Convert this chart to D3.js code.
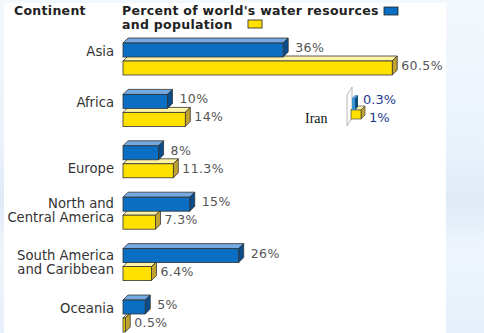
<!DOCTYPE html>
<html><head><meta charset="utf-8">
<script src="https://cdn.jsdelivr.net/npm/d3@7"></script>
<style>html,body{margin:0;padding:0;background:#fff;overflow:hidden}</style>
</head><body>
<script>
const categories = ["Asia", "Africa", "Europe", "North and\nCentral America", "South America\nand Caribbean", "Oceania"];
const waterResources = [36, 10, 8, 15, 26, 5];
const population = [60.5, 14, 11.3, 7.3, 6.4, 0.5];
const iranLabel = "Iran";
const iranWater = 0.3;
const iranPopulation = 1;
const headerCol1 = "Continent";
const headerLine1 = "Percent of world's water resources";
const headerLine2 = "and population";

const W = 484, H = 333;
const svg = d3.select("body").append("svg").attr("width", W).attr("height", H);
const defs = svg.append("defs");
const g1 = defs.append("linearGradient").attr("id","bg").attr("x1",0).attr("y1",0).attr("x2",0).attr("y2",1);
g1.append("stop").attr("offset","0").attr("stop-color","#f3f8fd");
g1.append("stop").attr("offset","0.45").attr("stop-color","#e9f2fb");
g1.append("stop").attr("offset","0.6").attr("stop-color","#dfeaf6");
g1.append("stop").attr("offset","0.75").attr("stop-color","#eef5fc");
g1.append("stop").attr("offset","1").attr("stop-color","#e6f0fa");
svg.append("rect").attr("width",W).attr("height",H).attr("fill","url(#bg)");
svg.append("rect").attr("x",4).attr("y",3).attr("width",442).attr("height",H).attr("fill","#fff");

const x = d3.scaleLinear().domain([0, 100]).range([123, 123 + 445]);
const y = d3.scaleBand().domain(categories).range([43, 43 + 6 * 51.4]);
const D = 5, BH = 14, YOFF = 18;

const blue = {front:"#0a6ec2", top:"#74a9e2", side:"#0a4d8c"};
const yellow = {front:"#ffe100", top:"#fff3a6", side:"#c2a331"};
const textFont = "'DejaVu Sans', Verdana, sans-serif";

function bar3d(g, x0, x1, yt, h, d, c, sw) {
  sw = sw == null ? 0.8 : sw;
  g.append("path").attr("d", `M${x0},${yt}L${x0+d},${yt-d}L${x1+d},${yt-d}L${x1},${yt}Z`)
    .attr("fill", c.top).attr("stroke", "#333").attr("stroke-width", sw);
  g.append("path").attr("d", `M${x1},${yt}L${x1+d},${yt-d}L${x1+d},${yt+h-d}L${x1},${yt+h}Z`)
    .attr("fill", c.side).attr("stroke", "#333").attr("stroke-width", sw);
  g.append("rect").attr("x", x0).attr("y", yt).attr("width", Math.max(0.1, x1 - x0)).attr("height", h)
    .attr("fill", c.front).attr("stroke", "#333").attr("stroke-width", sw);
}

const bars = svg.append("g");
const alignPop = { "Europe": true };
categories.forEach((cat, i) => {
  const b = y(cat);
  const g = bars.append("g");
  bar3d(g, x(0), x(population[i]), b + YOFF, BH, D, yellow);
  bar3d(g, x(0), x(waterResources[i]), b, BH, D, blue);
  g.append("text").attr("x", x(waterResources[i]) + D + 7).attr("y", b + 9)
    .attr("font-family", textFont).attr("font-size", 12.5).attr("fill", "#555")
    .attr("letter-spacing", 0.4).text(waterResources[i] + "%");
  g.append("text").attr("x", x(population[i]) + D + 4).attr("y", b + YOFF + 9)
    .attr("font-family", textFont).attr("font-size", 12.5).attr("fill", "#555")
    .attr("letter-spacing", 0.4).text(population[i] + "%");
  const lines = cat.split("\n");
  const t = g.append("text").attr("text-anchor", "end").attr("font-family", textFont)
    .attr("font-size", 13.2).attr("fill", "#333");
  if (lines.length === 1) {
    t.append("tspan").attr("x", 114).attr("y", alignPop[cat] ? b + YOFF + 9 : b + 13).text(lines[0]);
  } else {
    lines.forEach((ln, k) => t.append("tspan").attr("x", 114).attr("y", b + 11 + k * 14).text(ln));
  }
});

// header
const hdr = svg.append("g").attr("font-family", textFont).attr("font-weight", "bold").attr("font-size", 12.5)
  .attr("letter-spacing", 0.3).attr("fill", "#222");
hdr.append("text").attr("x", 14).attr("y", 14.5).text(headerCol1);
hdr.append("text").attr("x", 122).attr("y", 14.5).text(headerLine1);
hdr.append("text").attr("x", 122).attr("y", 28.5).text(headerLine2);
svg.append("rect").attr("x", 384).attr("y", 7).attr("width", 14).attr("height", 8).attr("fill", blue.front).attr("stroke", "#222").attr("stroke-width", 0.8);
svg.append("rect").attr("x", 248).attr("y", 20).attr("width", 14).attr("height", 8).attr("fill", yellow.front).attr("stroke", "#222").attr("stroke-width", 0.8);

// Iran inset
const ig = svg.append("g");
ig.append("path").attr("d", "M347,95L352,87L352,118L347,126Z").attr("fill", "#fbfbfb").attr("stroke", "#aaa").attr("stroke-width", 0.8);
const xi = d3.scaleLinear().domain([0, 1]).range([351, 361]);
bar3d(ig, xi(0), xi(iranPopulation), 110, 9, 4, yellow, 0.6);
const iranBlue = {front:"#3b95d0", top:"#5aa0d6", side:"#0b4f80"};
bar3d(ig, xi(0) + 1, xi(iranWater) + 1, 98, 12, 3, iranBlue, 0);
ig.append("text").attr("x", 363).attr("y", 104).attr("font-family", textFont).attr("font-size", 13)
  .attr("fill", "#1f3a8f").text(iranWater + "%");
ig.append("text").attr("x", 369).attr("y", 122).attr("font-family", textFont).attr("font-size", 13)
  .attr("fill", "#1f3a8f").text(iranPopulation + "%");
ig.append("text").attr("x", 305).attr("y", 123).attr("font-family", "'Liberation Serif', 'Times New Roman', serif")
  .attr("font-size", 14).attr("fill", "#111").text(iranLabel);
</script>
</body></html>
